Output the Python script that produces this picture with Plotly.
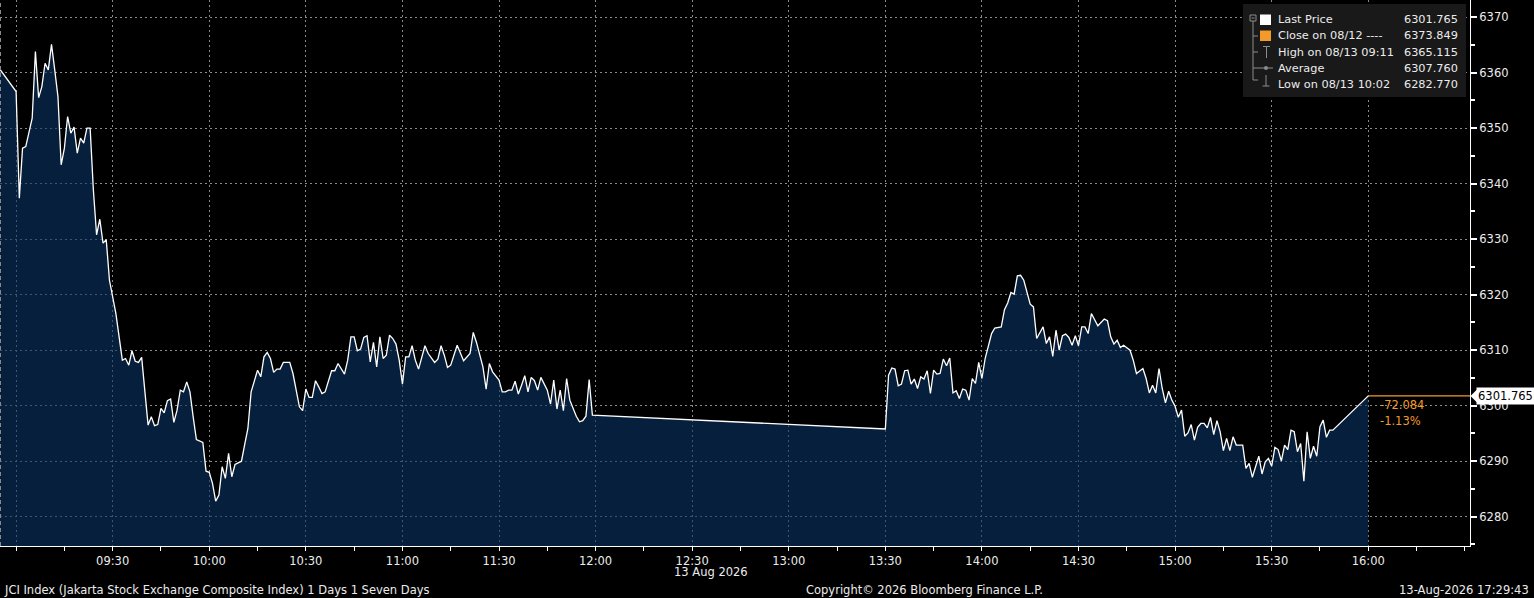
import plotly.graph_objects as go

DATE = "2026-08-13"

times_am = [
    "08:55", "09:00", "09:01", "09:02", "09:03", "09:05", "09:06", "09:07", "09:08", "09:09",
    "09:10", "09:11", "09:12", "09:13", "09:14", "09:15", "09:16", "09:17", "09:18", "09:19",
    "09:20", "09:21", "09:22", "09:23", "09:24", "09:25", "09:26", "09:27", "09:28", "09:29",
    "09:31", "09:33", "09:34", "09:35", "09:36", "09:37", "09:38", "09:39", "09:41", "09:42",
    "09:43", "09:44", "09:45", "09:46", "09:47", "09:48", "09:49", "09:50", "09:51", "09:52",
    "09:53", "09:54", "09:55", "09:56", "09:58", "09:59", "10:00", "10:01", "10:02", "10:03",
    "10:04", "10:05", "10:06", "10:07", "10:08", "10:09", "10:10", "10:11", "10:12", "10:13",
    "10:15", "10:16", "10:17", "10:18", "10:19", "10:20", "10:21", "10:22", "10:23", "10:25",
    "10:26", "10:28", "10:29", "10:30", "10:31", "10:32", "10:33", "10:34", "10:35", "10:36",
    "10:38", "10:39", "10:40", "10:42", "10:43", "10:44", "10:45", "10:46", "10:47", "10:48",
    "10:49", "10:50", "10:51", "10:52", "10:53", "10:54", "10:55", "10:56", "10:57", "10:58",
    "10:59", "11:00", "11:01", "11:02", "11:03", "11:04", "11:05", "11:07", "11:08", "11:10",
    "11:11", "11:12", "11:13", "11:14", "11:15", "11:17", "11:19", "11:21", "11:22", "11:23",
    "11:25", "11:26", "11:27", "11:28", "11:30", "11:31", "11:32", "11:33", "11:34", "11:35",
    "11:36", "11:37", "11:38", "11:39", "11:40", "11:41", "11:42", "11:43", "11:45", "11:46",
    "11:47", "11:48", "11:49", "11:50", "11:51", "11:52", "11:54", "11:55", "11:56", "11:57",
    "11:58", "11:59",
]
prices_am = [
    6360.6, 6356.6, 6337.4, 6346.4, 6346.7, 6351.8, 6363.8, 6355.5, 6357.5, 6361.7,
    6360.5, 6365.1, 6360.5, 6355.7, 6343.4, 6346.4, 6352.1, 6349.1, 6350.2, 6345.5,
    6348.2, 6347.3, 6350.0, 6350.0, 6338.9, 6330.8, 6333.6, 6329.3, 6329.9, 6322.6,
    6316.6, 6308.2, 6308.5, 6307.3, 6309.9, 6308.0, 6307.8, 6308.7, 6296.5, 6298.0,
    6296.4, 6296.6, 6299.5, 6298.7, 6300.9, 6301.2, 6297.0, 6299.2, 6302.8, 6302.5,
    6304.3, 6302.5, 6298.0, 6293.9, 6293.4, 6288.2, 6288.0, 6286.0, 6282.8, 6283.9,
    6289.0, 6286.9, 6291.4, 6287.2, 6289.4, 6289.7, 6290.0, 6293.0, 6295.9, 6302.5,
    6306.4, 6305.2, 6308.8, 6309.6, 6308.5, 6306.0, 6306.6, 6306.6, 6307.8, 6307.8,
    6305.8, 6299.8, 6299.1, 6303.0, 6301.5, 6301.5, 6304.5, 6303.4, 6302.2, 6302.5,
    6306.3, 6306.3, 6307.6, 6305.7, 6308.2, 6312.4, 6312.4, 6309.9, 6310.2, 6312.3,
    6312.6, 6307.9, 6311.4, 6307.0, 6312.4, 6308.5, 6309.1, 6312.7, 6312.1, 6311.1,
    6308.2, 6303.9, 6308.8, 6308.8, 6310.8, 6308.2, 6306.6, 6310.8, 6309.4, 6307.8,
    6308.4, 6310.8, 6309.1, 6306.9, 6307.3, 6310.9, 6308.1, 6309.4, 6313.2, 6311.4,
    6307.0, 6303.0, 6307.6, 6306.1, 6304.6, 6302.5, 6302.5, 6302.8, 6302.8, 6304.4,
    6302.1, 6303.7, 6305.4, 6302.5, 6305.1, 6304.5, 6302.8, 6305.1, 6302.8, 6300.3,
    6304.6, 6299.4, 6302.8, 6299.1, 6304.9, 6301.0, 6298.1, 6297.1, 6297.3, 6298.1,
    6304.7, 6298.3,
]

times_pm = [
    "13:30", "13:31", "13:32", "13:33", "13:34", "13:35", "13:36", "13:37", "13:38", "13:39",
    "13:40", "13:41", "13:42", "13:43", "13:44", "13:45", "13:46", "13:47", "13:48", "13:49",
    "13:50", "13:51", "13:52", "13:53", "13:54", "13:55", "13:56", "13:57", "13:58", "13:59",
    "14:00", "14:01", "14:02", "14:03", "14:04", "14:06", "14:07", "14:08", "14:09", "14:10",
    "14:11", "14:12", "14:13", "14:15", "14:16", "14:17", "14:19", "14:20", "14:21", "14:22",
    "14:23", "14:24", "14:25", "14:26", "14:27", "14:28", "14:29", "14:30", "14:31", "14:32",
    "14:33", "14:34", "14:36", "14:37", "14:38", "14:39", "14:40", "14:41", "14:42", "14:43",
    "14:44", "14:46", "14:47", "14:48", "14:50", "14:51", "14:52", "14:53", "14:54", "14:55",
    "14:56", "14:57", "14:58", "14:59", "15:00", "15:01", "15:02", "15:03", "15:04", "15:05",
    "15:06", "15:07", "15:08", "15:09", "15:10", "15:11", "15:12", "15:13", "15:14", "15:15",
    "15:16", "15:17", "15:18", "15:19", "15:21", "15:22", "15:23", "15:24", "15:25", "15:26",
    "15:27", "15:28", "15:29", "15:30", "15:31", "15:32", "15:33", "15:34", "15:35", "15:36",
    "15:37", "15:38", "15:39", "15:40", "15:41", "15:42", "15:43", "15:44", "15:45", "15:46",
    "15:47", "15:48", "15:49", "16:00",
]
prices_pm = [
    6295.8, 6305.5, 6306.8, 6306.6, 6303.6, 6303.9, 6306.3, 6306.4, 6303.9, 6304.8,
    6303.1, 6305.2, 6304.8, 6306.3, 6302.2, 6306.4, 6305.7, 6305.8, 6308.4, 6307.2,
    6308.6, 6302.3, 6302.7, 6301.3, 6303.0, 6302.8, 6301.0, 6304.9, 6304.0, 6307.8,
    6304.9, 6308.5, 6310.9, 6313.0, 6314.0, 6314.2, 6317.3, 6318.5, 6320.4, 6320.1,
    6323.4, 6323.5, 6322.6, 6318.3, 6317.8, 6312.1, 6314.2, 6311.2, 6312.4, 6308.9,
    6313.6, 6310.0, 6312.6, 6312.9, 6312.3, 6310.9, 6312.6, 6310.8, 6314.2, 6314.2,
    6313.0, 6316.6, 6314.4, 6315.0, 6315.6, 6315.3, 6312.4, 6311.1, 6311.8, 6310.5,
    6310.9, 6310.0, 6308.2, 6305.8, 6306.7, 6304.9, 6302.3, 6303.7, 6302.3, 6306.7,
    6303.1, 6300.5, 6302.6, 6301.0, 6299.9, 6297.9, 6299.2, 6294.5, 6295.1, 6296.6,
    6293.8, 6296.1, 6296.8, 6296.8, 6296.0, 6297.9, 6294.8, 6297.3, 6295.3, 6291.9,
    6294.1, 6291.9, 6294.4, 6292.9, 6292.9, 6288.7, 6289.6, 6287.1, 6289.0, 6290.9,
    6287.7, 6289.9, 6290.5, 6289.1, 6292.5, 6292.1, 6290.0, 6292.9, 6292.1, 6295.6,
    6295.3, 6291.7, 6293.2, 6286.4, 6295.3, 6290.5, 6292.7, 6290.9, 6296.2, 6297.4,
    6294.3, 6295.6, 6295.6, 6301.765,
]

assert len(times_am) == len(prices_am)
assert len(times_pm) == len(prices_pm)

x_ticks = ["09:00", "09:30", "10:00", "10:30", "11:00", "11:30", "12:00", "12:30",
           "13:00", "13:30", "14:00", "14:30", "15:00", "15:30", "16:00"]
x_tick_labels = ["", "09:30", "10:00", "10:30", "11:00", "11:30", "12:00", "12:30",
                 "13:00", "13:30", "14:00", "14:30", "15:00", "15:30", "16:00"]
y_ticks = [6280, 6290, 6300, 6310, 6320, 6330, 6340, 6350, 6360, 6370]

last_price = 6301.765
prev_close = 6373.849
high_val, high_time = 6365.115, "08/13 09:11"
low_val, low_time = 6282.770, "08/13 10:02"
avg_val = 6307.760

legend_labels = ["Last Price", "Close on 08/12 ----", f"High on {high_time}",
                 "Average", f"Low on {low_time}"]
legend_values = [last_price, prev_close, high_val, avg_val, low_val]

title_text = "JCI Index (Jakarta Stock Exchange Composite Index) 1 Days 1 Seven Days"
copyright_text = "Copyright\u00a9 2026 Bloomberg Finance L.P."
stamp_text = "13-Aug-2026 17:29:43"
date_text = "13 Aug 2026"

x_start = f"{DATE} 08:55:00"
x_end = f"{DATE} 16:31:36"

times = times_am + times_pm
prices = prices_am + prices_pm
xs = [f"{DATE} {t}" for t in times]

# ---------------- layout helpers (pixel -> paper) ----------------
W, H = 1534, 598
ML, MR, MT, MB = 0, 64, 0, 52
PW, PH = W - ML - MR, H - MT - MB


def px(x):
    return (x - ML) / PW


def py(y):
    return 1 - (y - MT) / PH


FONT = "DejaVu Sans"
TXT = "#ececec"
ORANGE = "#f39a2b"
GRID = "#8a8a8a"

fig = go.Figure()
fig.add_trace(go.Scatter(
    x=xs, y=prices, mode="lines",
    line=dict(color="white", width=1.3),
    fill="tozeroy", fillcolor="rgba(10,52,100,0.6)",
    hoverinfo="skip", showlegend=False,
))
# orange reference line extending from the last point to the right edge
fig.add_trace(go.Scatter(
    x=[xs[-1], x_end], y=[last_price, last_price], mode="lines",
    line=dict(color=ORANGE, width=1.2), hoverinfo="skip", showlegend=False,
))

fig.update_layout(
    width=W, height=H,
    margin=dict(l=ML, r=MR, t=MT, b=MB, pad=0),
    paper_bgcolor="black", plot_bgcolor="black",
    font=dict(family=FONT, color=TXT, size=11.5),
    showlegend=False,
)

fig.update_xaxes(
    type="date", range=[x_start, x_end],
    tickmode="array", tickvals=[f"{DATE} {t}" for t in x_ticks], ticktext=x_tick_labels,
    ticks="outside", ticklen=4, tickcolor="white", tickwidth=1,
    showgrid=True, gridcolor=GRID, griddash="2px,3px", gridwidth=1,
    showline=True, linecolor="white", linewidth=1,
    zeroline=False,
    tickfont=dict(family=FONT, size=11.5, color=TXT),
    minor=dict(ticks="outside", ticklen=4, tickcolor="white", dtick=15 * 60 * 1000,
               tick0=f"{DATE} 09:00", showgrid=False),
)
fig.update_yaxes(
    side="right", range=[6274.72, 6373.1],
    tickmode="array", tickvals=y_ticks, ticktext=[str(v) for v in y_ticks],
    ticks="outside", ticklen=6, tickwidth=2, tickcolor="white",
    showgrid=True, gridcolor=GRID, griddash="2px,3px", gridwidth=1,
    showline=True, linecolor="white", linewidth=1,
    zeroline=False,
    tickfont=dict(family=FONT, size=11.5, color=TXT),
    minor=dict(ticks="outside", ticklen=4, tickcolor="white", dtick=5, tick0=6275,
               showgrid=False),
)

shapes = []
annotations = []

# left frame dashed edge
shapes.append(dict(type="line", xref="paper", yref="paper", x0=px(0.5), x1=px(0.5), y0=0, y1=1,
                   line=dict(color=GRID, width=1, dash="4px,3px"), layer="above"))

# ---------------- legend box ----------------
shapes.append(dict(type="rect", xref="paper", yref="paper",
                   x0=px(1243), x1=px(1466), y0=py(97), y1=py(4),
                   fillcolor="#191919", line=dict(width=0), layer="above"))
ICON = "#8c8c8c"
# tree collapse box
shapes.append(dict(type="rect", xref="paper", yref="paper", x0=px(1250), x1=px(1256),
                   y0=py(21), y1=py(15), line=dict(color=ICON, width=1), layer="above"))
shapes.append(dict(type="line", xref="paper", yref="paper", x0=px(1251.5), x1=px(1254.5),
                   y0=py(18), y1=py(18), line=dict(color=ICON, width=1), layer="above"))
shapes.append(dict(type="line", xref="paper", yref="paper", x0=px(1253), x1=px(1253),
                   y0=py(21), y1=py(80), line=dict(color=ICON, width=1), layer="above"))
for yy in (36, 52, 68, 80):
    shapes.append(dict(type="line", xref="paper", yref="paper", x0=px(1253), x1=px(1258),
                       y0=py(yy), y1=py(yy), line=dict(color=ICON, width=1), layer="above"))
# markers
shapes.append(dict(type="rect", xref="paper", yref="paper", x0=px(1260), x1=px(1271),
                   y0=py(25), y1=py(14.5), fillcolor="white", line=dict(width=0), layer="above"))
shapes.append(dict(type="rect", xref="paper", yref="paper", x0=px(1260), x1=px(1271),
                   y0=py(41), y1=py(30.5), fillcolor=ORANGE, line=dict(width=0), layer="above"))
# high "T"
shapes.append(dict(type="line", xref="paper", yref="paper", x0=px(1263), x1=px(1270),
                   y0=py(46.5), y1=py(46.5), line=dict(color=ICON, width=1), layer="above"))
shapes.append(dict(type="line", xref="paper", yref="paper", x0=px(1266.5), x1=px(1266.5),
                   y0=py(46.5), y1=py(58), line=dict(color=ICON, width=1), layer="above"))
# average -o-
shapes.append(dict(type="line", xref="paper", yref="paper", x0=px(1258), x1=px(1273),
                   y0=py(68), y1=py(68), line=dict(color=ICON, width=1), layer="above"))
shapes.append(dict(type="circle", xref="paper", yref="paper", x0=px(1264), x1=px(1268),
                   y0=py(70), y1=py(66), fillcolor=ICON, line=dict(width=0), layer="above"))
# low
shapes.append(dict(type="line", xref="paper", yref="paper", x0=px(1266), x1=px(1266),
                   y0=py(75), y1=py(86), line=dict(color=ICON, width=1), layer="above"))
shapes.append(dict(type="line", xref="paper", yref="paper", x0=px(1262.5), x1=px(1269.5),
                   y0=py(86), y1=py(86), line=dict(color=ICON, width=1), layer="above"))

rows_y = [20, 36, 52, 68, 84]
for lab, val, yy in zip(legend_labels, legend_values, rows_y):
    annotations.append(dict(xref="paper", yref="paper", x=px(1276), y=py(yy), text=lab,
                            xanchor="left", yanchor="middle", showarrow=False,
                            font=dict(family=FONT, size=11.3, color=TXT)))
    annotations.append(dict(xref="paper", yref="paper", x=px(1460), y=py(yy), text=f"{val:.3f}",
                            xanchor="right", yanchor="middle", showarrow=False,
                            font=dict(family=FONT, size=11.3, color=TXT)))

# ---------------- last price tag + change ----------------
change = last_price - prev_close
pct = change / prev_close * 100
annotations.append(dict(xref="paper", yref="paper", x=px(1378), y=py(405), text=f"{change:.3f}",
                        xanchor="left", yanchor="middle", showarrow=False,
                        font=dict(family=FONT, size=11.5, color=ORANGE)))
annotations.append(dict(xref="paper", yref="paper", x=px(1378), y=py(421), text=f"{pct:.2f}%",
                        xanchor="left", yanchor="middle", showarrow=False,
                        font=dict(family=FONT, size=11.5, color=ORANGE)))
annotations.append(dict(xref="paper", yref="y", x=px(1476), y=last_price, text=f"{last_price:.3f}",
                        xanchor="left", yanchor="middle", showarrow=False, bgcolor="white",
                        borderpad=1, font=dict(family=FONT, size=11.5, color="black")))
d = 6.5 / 5.55
shapes.append(dict(type="path", xref="paper", yref="y",
                   path=f"M {px(1470.5)},{last_price} L {px(1477)},{last_price + d} "
                        f"L {px(1477)},{last_price - d} Z",
                   fillcolor="white", line=dict(width=0), layer="above"))

# ---------------- footer ----------------
annotations.append(dict(xref="paper", yref="paper", x=px(672), y=py(572), text=date_text,
                        xanchor="left", yanchor="middle", showarrow=False,
                        font=dict(family=FONT, size=11.5, color=TXT)))
annotations.append(dict(xref="paper", yref="paper", x=px(2), y=py(590), text=title_text,
                        xanchor="left", yanchor="middle", showarrow=False,
                        font=dict(family=FONT, size=11.5, color=TXT)))
annotations.append(dict(xref="paper", yref="paper", x=px(924), y=py(590), text=copyright_text,
                        xanchor="center", yanchor="middle", showarrow=False,
                        font=dict(family=FONT, size=11.5, color=TXT)))
annotations.append(dict(xref="paper", yref="paper", x=px(1531), y=py(590), text=stamp_text,
                        xanchor="right", yanchor="middle", showarrow=False,
                        font=dict(family=FONT, size=11.5, color=TXT)))

fig.update_layout(shapes=shapes, annotations=annotations)

fig.write_html("out.html", include_plotlyjs=True, full_html=True,
               config={"displayModeBar": False},
               post_script="document.body.style.margin='0px';document.body.style.background='black';")
